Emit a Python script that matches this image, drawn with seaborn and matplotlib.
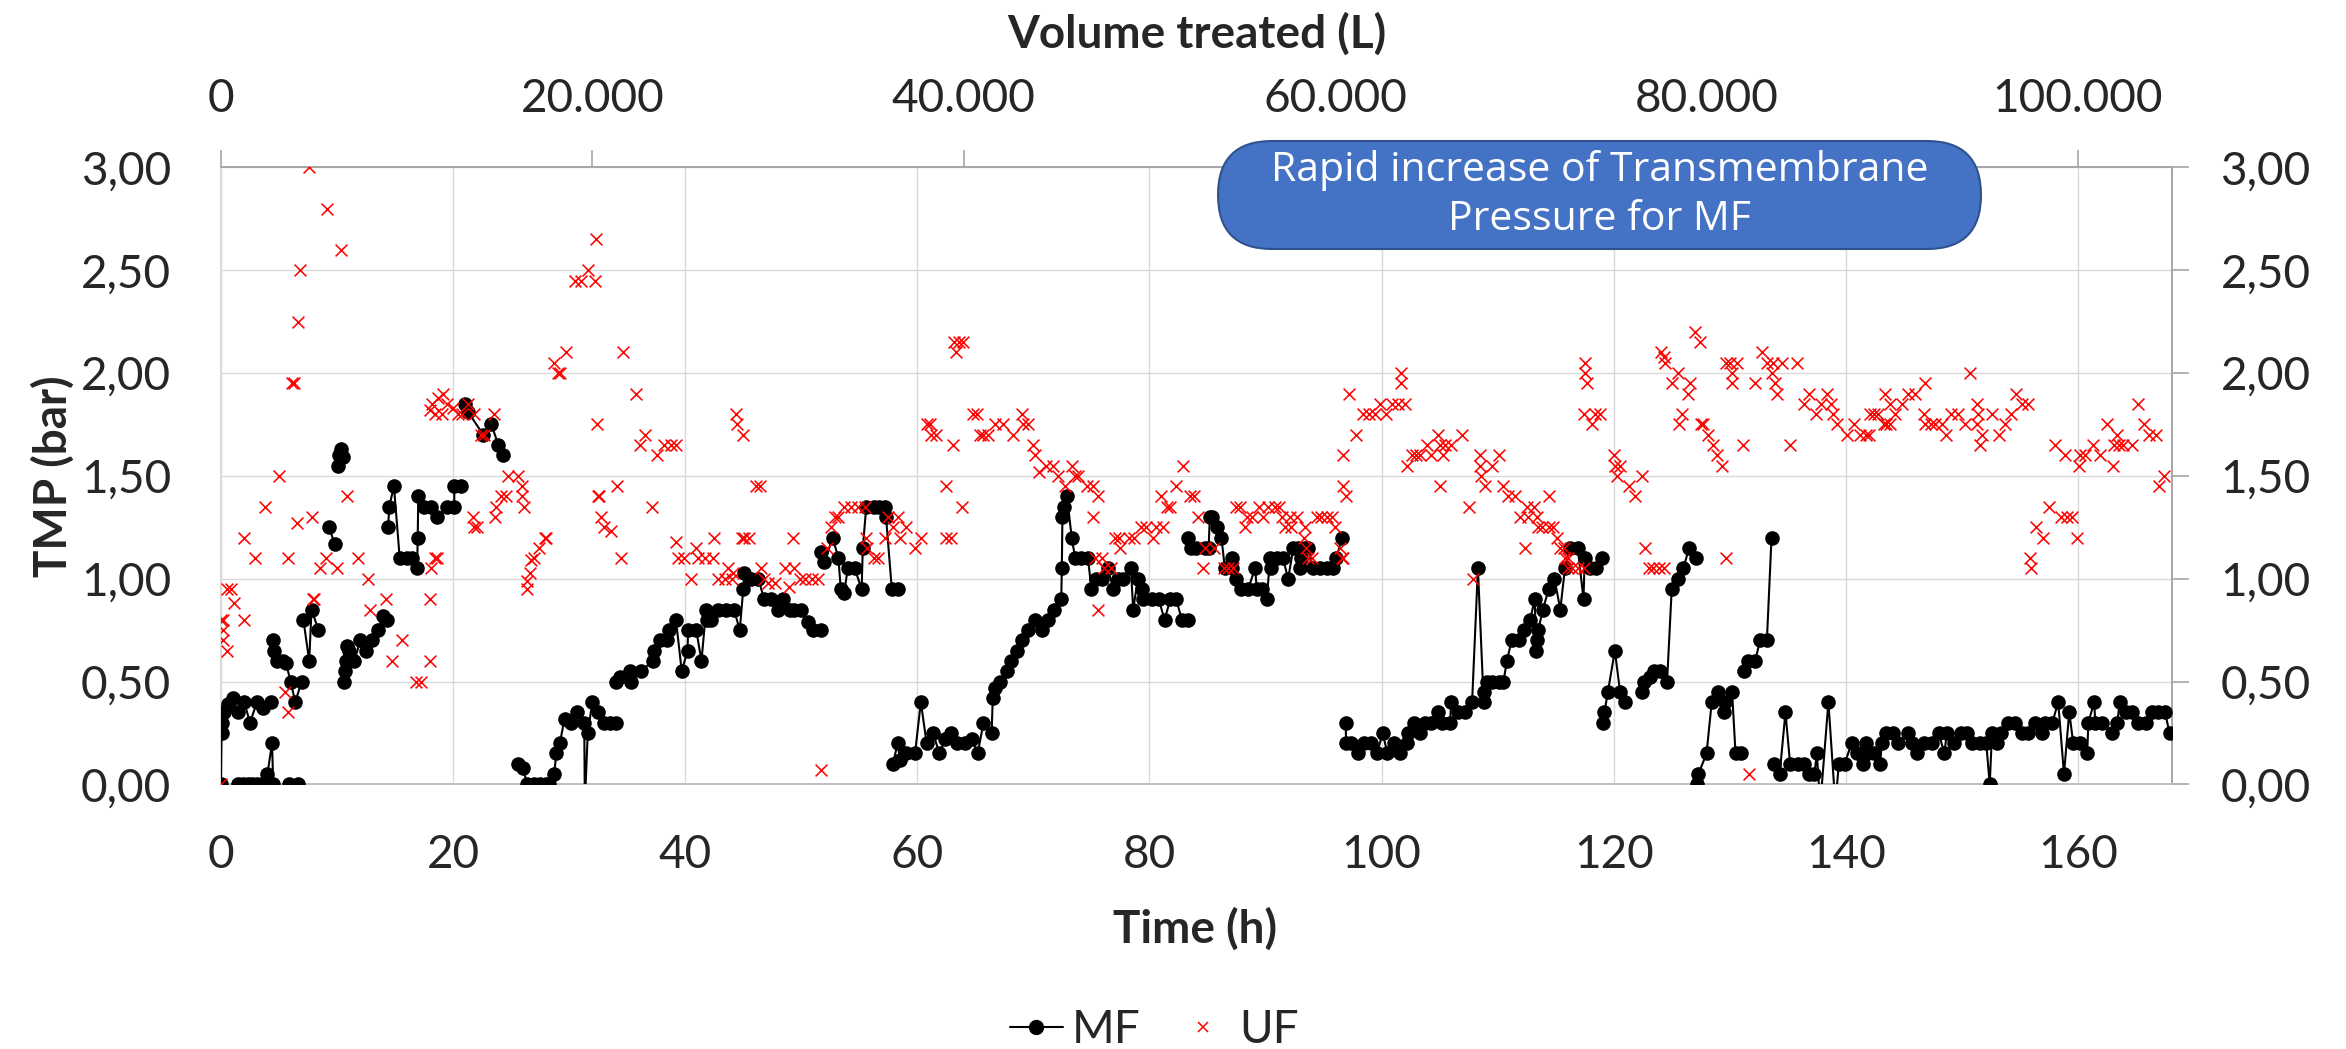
import numpy as np
import pandas as pd
import matplotlib
matplotlib.use("Agg")
import matplotlib.pyplot as plt
import seaborn as sns
from matplotlib.lines import Line2D
from matplotlib.patches import FancyBboxPatch
from matplotlib.ticker import FuncFormatter

# MF: (time h, TMP bar) runs, each run is one connected line
mf_run_a = [(0, 0), (0.05, 0.25), (0.1, 0.30), (0.3, 0.35), (0.6, 0.39), (1.0, 0.42), (1.45, 0.35),
            (2.0, 0.40), (2.5, 0.30), (3.1, 0.40), (3.6, 0.37), (4.3, 0.40)]
mf_run_b = [(1.5, 0), (1.9, 0), (2.3, 0), (2.7, 0), (3.1, 0), (3.5, 0), (4.0, 0.05), (4.4, 0.20), (4.5, 0)]
mf_run_c = [(5.9, 0), (6.6, 0)]
mf_run_d = [(4.5, 0.70), (4.6, 0.65), (4.8, 0.60), (5.3, 0.60), (5.6, 0.59), (6.0, 0.50), (6.4, 0.40), (6.95, 0.50)]
mf_run_e = [(7.1, 0.80), (7.6, 0.60), (7.8, 0.85), (8.4, 0.75)]
mf_run_f = [(9.3, 1.25), (9.8, 1.17)]
mf_run_g = [(10.1, 1.55), (10.2, 1.60), (10.3, 1.63), (10.5, 1.59)]
mf_run_h = [(10.6, 0.50), (10.7, 0.55), (10.8, 0.60), (10.9, 0.675), (11.0, 0.65), (11.5, 0.60), (12.0, 0.70),
            (12.5, 0.65), (13.0, 0.70), (13.5, 0.75), (14.0, 0.82), (14.3, 0.80)]
mf_run_i = [(14.4, 1.25), (14.5, 1.35), (14.9, 1.45), (15.4, 1.10), (16.0, 1.10), (16.5, 1.10), (16.9, 1.05),
            (16.95, 1.20), (17.0, 1.40), (17.5, 1.35), (18.1, 1.35), (18.6, 1.30), (19.5, 1.35), (20.1, 1.35),
            (20.1, 1.45), (20.7, 1.45)]
mf_run_j = [(21.0, 1.85), (21.3, 1.81), (22.6, 1.70), (23.3, 1.75), (23.9, 1.65), (24.3, 1.60)]
mf_run_k = [(25.6, 0.10), (26.0, 0.08), (26.4, 0), (27.0, 0), (27.5, 0), (28.0, 0), (28.3, 0), (28.7, 0.05),
            (28.9, 0.15), (29.2, 0.20), (29.6, 0.32), (30.2, 0.30), (30.7, 0.35), (31.3, 0.30), (31.35, -0.1),
            (31.6, 0.25), (32.0, 0.40), (32.5, 0.35), (33.0, 0.30), (33.5, 0.30), (34.0, 0.30)]
mf_run_l = [(34.0, 0.50), (34.4, 0.52), (35.2, 0.55), (35.35, 0.50), (36.2, 0.55), (37.2, 0.60), (37.35, 0.65),
            (37.8, 0.70), (38.4, 0.70), (38.6, 0.75), (39.2, 0.80), (39.7, 0.55), (40.2, 0.65), (40.25, 0.75),
            (40.95, 0.75), (41.4, 0.60), (41.8, 0.85), (41.85, 0.80), (42.2, 0.80), (42.8, 0.85), (43.5, 0.85),
            (44.2, 0.85), (44.7, 0.75), (45.0, 0.95), (45.1, 1.03), (45.7, 1.00), (46.3, 1.00), (46.8, 0.90),
            (47.4, 0.90), (48.0, 0.85), (48.4, 0.90), (49.0, 0.85), (49.4, 0.85), (50.0, 0.85), (50.6, 0.79),
            (51.0, 0.75), (51.7, 0.75)]
mf_run_m = [(51.7, 1.13), (52.0, 1.08), (52.7, 1.20), (53.2, 1.10), (53.4, 0.95), (53.7, 0.93), (54.0, 1.05),
            (54.6, 1.05), (55.2, 0.95), (55.3, 1.15), (55.6, 1.35), (56.3, 1.35), (56.7, 1.35), (57.2, 1.35),
            (57.3, 1.30), (57.8, 0.95), (58.3, 0.95)]
mf_run_n = [(57.9, 0.10), (58.3, 0.20), (58.5, 0.12), (59.05, 0.15), (59.8, 0.15), (60.3, 0.40), (60.8, 0.20),
            (61.35, 0.25), (61.9, 0.15), (62.4, 0.22), (62.9, 0.25), (63.4, 0.20), (64.1, 0.20), (64.7, 0.22),
            (65.2, 0.15), (65.7, 0.30), (66.4, 0.25), (66.5, 0.42), (66.7, 0.47), (67.1, 0.50), (67.7, 0.55),
            (68.1, 0.60), (68.6, 0.65), (69.0, 0.70), (69.5, 0.75), (70.1, 0.80), (70.7, 0.75), (71.3, 0.80),
            (71.8, 0.85), (72.4, 0.90), (72.45, 1.05), (72.5, 1.30), (72.65, 1.35), (72.9, 1.40), (73.3, 1.20),
            (73.6, 1.10), (74.1, 1.10), (74.7, 1.10), (75.0, 0.95), (75.4, 1.00), (75.9, 1.00), (76.4, 1.05),
            (76.9, 0.95), (77.3, 1.00), (77.7, 1.00), (78.4, 1.05), (78.6, 0.85), (79.0, 1.00), (79.4, 0.95),
            (79.45, 0.90), (80.2, 0.90), (80.8, 0.90), (81.3, 0.80), (81.8, 0.90), (82.3, 0.90), (82.8, 0.80),
            (83.3, 0.80)]
mf_run_o = [(83.3, 1.20), (83.6, 1.15), (84.05, 1.15), (84.8, 1.15), (85.1, 1.15), (85.2, 1.30), (85.4, 1.30),
            (85.8, 1.25), (86.2, 1.20), (86.5, 1.05), (87.1, 1.10), (87.15, 1.05), (87.5, 1.00), (87.9, 0.95),
            (88.5, 0.95), (89.1, 1.05), (89.25, 0.95), (89.7, 0.95), (90.1, 0.90), (90.4, 1.10), (90.5, 1.05),
            (91.0, 1.10), (91.5, 1.10), (91.95, 1.00), (92.4, 1.15), (92.8, 1.15), (92.95, 1.05), (93.1, 1.10),
            (93.4, 1.15), (93.7, 1.15), (94.1, 1.05), (94.7, 1.05), (95.3, 1.05), (95.8, 1.05), (96.1, 1.10),
            (96.6, 1.20)]
mf_run_p = [(96.9, 0.30), (96.95, 0.20), (97.4, 0.20), (98.0, 0.15), (98.5, 0.20), (99.1, 0.20), (99.6, 0.15),
            (100.1, 0.25), (100.5, 0.15), (101.1, 0.20), (101.6, 0.15), (102.2, 0.20), (102.3, 0.25), (102.8, 0.30),
            (103.3, 0.25), (103.7, 0.30), (104.3, 0.30), (104.9, 0.35), (105.2, 0.30), (105.9, 0.30), (106.0, 0.40),
            (106.6, 0.35), (107.2, 0.35), (107.8, 0.40), (108.3, 1.05), (108.8, 0.40), (108.85, 0.45),
            (109.05, 0.50), (109.5, 0.50), (110.1, 0.50), (110.5, 0.50), (110.8, 0.60), (111.2, 0.70),
            (111.8, 0.70), (112.3, 0.75), (112.8, 0.80), (113.2, 0.90), (113.3, 0.65), (113.4, 0.70),
            (113.5, 0.75), (113.9, 0.85), (114.4, 0.95), (114.9, 1.00), (115.4, 0.85), (115.8, 1.05),
            (116.2, 1.15), (116.9, 1.15), (117.4, 0.90), (117.5, 1.10), (117.96, 1.05), (118.5, 1.05),
            (119.0, 1.10)]
mf_run_q = [(119.1, 0.30), (119.2, 0.35), (119.5, 0.45), (120.1, 0.65), (120.55, 0.45), (121.0, 0.40)]
mf_run_r = [(122.4, 0.45), (122.6, 0.50), (123.1, 0.52), (123.5, 0.55), (124.0, 0.55), (124.6, 0.50),
            (125.0, 0.95), (125.5, 1.00), (126.0, 1.05), (126.5, 1.15), (127.1, 1.10)]
mf_run_s = [(127.2, 0.0), (127.3, 0.05), (128.0, 0.15), (128.45, 0.40), (129.0, 0.45), (129.5, 0.35),
            (129.6, 0.40), (130.2, 0.45), (130.5, 0.15), (131.0, 0.15)]
mf_run_t = [(131.2, 0.55), (131.6, 0.60), (132.2, 0.60), (132.6, 0.70), (133.2, 0.70), (133.6, 1.20)]
mf_run_u = [(133.8, 0.10), (134.3, 0.05), (134.8, 0.35), (135.2, 0.10), (135.9, 0.10), (136.4, 0.10),
            (136.8, 0.05), (137.3, 0.05), (137.5, 0.15), (137.8, -0.1), (138.5, 0.40), (139.1, -0.1),
            (139.4, 0.10), (139.9, 0.10), (140.5, 0.20), (140.95, 0.15), (141.5, 0.10), (141.7, 0.20),
            (141.95, 0.15), (142.4, 0.15), (142.95, 0.10), (143.1, 0.20), (143.5, 0.25), (144.1, 0.25),
            (144.5, 0.20), (145.4, 0.25), (145.7, 0.20), (146.1, 0.15), (146.7, 0.20), (147.4, 0.20),
            (148.0, 0.25), (148.5, 0.15), (148.7, 0.25), (149.3, 0.20), (149.9, 0.25), (150.4, 0.25),
            (150.9, 0.20), (151.6, 0.20), (152.1, 0.20), (152.4, 0.0), (152.6, 0.25), (153.0, 0.20),
            (153.4, 0.25), (154.0, 0.30), (154.6, 0.30), (155.2, 0.25), (155.7, 0.25), (156.3, 0.30),
            (156.9, 0.25), (157.2, 0.30), (157.8, 0.30), (158.3, 0.40), (158.8, 0.05), (159.25, 0.35),
            (159.6, 0.20), (160.2, 0.20), (160.8, 0.15), (160.9, 0.30), (161.4, 0.40), (161.5, 0.30),
            (162.1, 0.30), (162.9, 0.25), (163.4, 0.30), (163.6, 0.40), (164.1, 0.35), (164.65, 0.35),
            (165.2, 0.30), (165.9, 0.30), (166.4, 0.35), (166.9, 0.35), (167.5, 0.35), (167.9, 0.25)]

# UF: (time h, TMP bar) markers only
uf_0_28 = [(0, 0.0), (0, 0.80), (0.2, 0.80), (0.15, 0.75), (0.15, 0.70), (0.55, 0.65), (0.55, 0.95), (0.86, 0.95),
           (1.15, 0.88), (2.0, 0.80), (1.95, 1.20), (2.96, 1.10), (3.8, 1.35), (5.0, 1.50), (5.5, 0.45),
           (5.8, 0.35), (5.8, 1.10), (6.1, 1.95), (6.3, 1.95), (6.55, 1.27), (6.6, 2.25), (6.85, 2.50),
           (7.6, 3.00), (7.8, 1.30), (8.0, 0.90), (7.95, 0.90), (8.5, 1.05), (9.05, 1.10), (9.1, 2.80),
           (10.0, 1.05), (10.3, 2.60), (10.9, 1.40), (11.8, 1.10), (12.7, 1.00), (12.8, 0.85), (14.2, 0.90),
           (14.7, 0.60), (15.6, 0.70), (16.8, 0.50), (17.2, 0.50), (18.0, 0.60), (18.0, 0.90), (18.1, 1.05),
           (18.4, 1.10), (18.6, 1.10), (18.0, 1.82), (18.2, 1.85), (18.4, 1.80), (18.7, 1.88), (19.1, 1.90),
           (19.0, 1.80), (19.5, 1.85), (20.0, 1.83), (20.4, 1.80), (20.8, 1.80), (21.3, 1.85), (21.8, 1.80),
           (21.7, 1.30), (21.8, 1.25), (22.1, 1.25), (22.4, 1.70), (22.7, 1.70), (23.5, 1.80), (23.6, 1.30),
           (23.7, 1.35), (24.1, 1.40), (24.6, 1.40), (24.7, 1.50), (25.6, 1.50), (25.9, 1.45), (25.9, 1.40),
           (26.1, 1.35), (26.4, 0.95), (26.4, 0.99), (26.6, 1.03), (26.7, 1.09), (27.0, 1.10), (27.4, 1.15),
           (27.9, 1.20)]
uf_28_56 = [(28.0, 1.20), (28.7, 2.05), (29.0, 2.00), (29.2, 2.00), (29.7, 2.10), (30.5, 2.45), (31.0, 2.45),
            (31.6, 2.50), (32.2, 2.45), (32.3, 2.65), (32.4, 1.75), (32.5, 1.40), (32.6, 1.40), (32.7, 1.30),
            (33.0, 1.25), (33.6, 1.23), (34.1, 1.45), (34.5, 1.10), (34.6, 2.10), (35.8, 1.90), (36.1, 1.65),
            (36.5, 1.70), (37.1, 1.35), (37.6, 1.60), (38.2, 1.65), (38.8, 1.65), (39.2, 1.65), (39.2, 1.18),
            (39.4, 1.10), (39.9, 1.10), (40.5, 1.00), (40.95, 1.15), (41.1, 1.10), (41.7, 1.10), (42.4, 1.10),
            (42.5, 1.20), (42.8, 1.00), (43.4, 1.00), (43.7, 1.05), (44.0, 1.00), (44.1, 1.03), (44.4, 1.80),
            (44.5, 1.75), (45.0, 1.70), (44.85, 1.20), (45.1, 1.20), (45.5, 1.20), (46.1, 1.45), (46.4, 1.45),
            (46.5, 1.05), (46.8, 1.00), (47.1, 0.98), (47.7, 0.98), (48.6, 1.05), (48.9, 0.96), (49.3, 1.20),
            (49.4, 1.05), (49.9, 1.00), (50.3, 1.00), (50.9, 1.00), (51.4, 1.00), (51.7, 0.07), (52.2, 1.15),
            (52.6, 1.25), (52.9, 1.30), (53.2, 1.30), (53.7, 1.35), (54.3, 1.35), (54.9, 1.35), (55.5, 1.35),
            (55.6, 1.20), (55.7, 1.15), (56.3, 1.10)]
uf_56_85 = [(56.6, 1.10), (57.2, 1.20), (57.5, 1.30), (57.9, 1.25), (58.3, 1.30), (58.5, 1.20), (59.05, 1.25),
            (59.8, 1.15), (60.3, 1.20), (60.8, 1.75), (61.1, 1.75), (61.2, 1.70), (61.6, 1.70), (62.5, 1.45),
            (62.5, 1.20), (62.9, 1.20), (63.1, 1.65), (63.2, 2.15), (63.35, 2.10), (63.6, 2.15), (63.9, 2.15),
            (63.85, 1.35), (64.8, 1.80), (65.1, 1.80), (65.4, 1.70), (65.7, 1.70), (66.1, 1.70), (66.7, 1.75),
            (67.4, 1.75), (68.2, 1.70), (69.0, 1.80), (69.1, 1.75), (69.5, 1.75), (70.0, 1.65), (70.1, 1.60),
            (70.5, 1.52), (71.1, 1.55), (71.7, 1.55), (72.1, 1.50), (72.7, 1.45), (73.3, 1.55), (73.6, 1.50),
            (73.85, 1.50), (74.6, 1.45), (75.1, 1.45), (75.6, 1.40), (75.1, 1.30), (75.3, 1.10), (75.9, 1.10),
            (76.1, 1.05), (75.6, 0.85), (76.7, 1.05), (77.0, 1.20), (77.4, 1.20), (77.5, 1.15), (78.2, 1.20),
            (78.7, 1.20), (79.3, 1.25), (79.7, 1.25), (80.3, 1.20), (80.6, 1.25), (81.2, 1.25), (81.0, 1.40),
            (81.5, 1.35), (81.8, 1.35), (82.3, 1.45), (82.9, 1.55), (83.5, 1.40), (83.85, 1.40), (84.2, 1.30),
            (84.8, 1.15), (84.6, 1.05)]
uf_85_113 = [(85.6, 1.15), (86.4, 1.05), (86.8, 1.05), (87.2, 1.05), (87.5, 1.35), (87.8, 1.35), (88.2, 1.25),
             (88.4, 1.30), (88.8, 1.30), (89.4, 1.35), (89.8, 1.30), (90.2, 1.35), (90.8, 1.35), (91.2, 1.35),
             (91.4, 1.30), (91.7, 1.25), (92.1, 1.30), (92.2, 1.25), (92.7, 1.30), (93.3, 1.20), (93.4, 1.25),
             (93.5, 1.15), (93.7, 1.10), (94.0, 1.10), (94.4, 1.30), (94.8, 1.30), (95.3, 1.30), (95.7, 1.30),
             (96.0, 1.25), (96.4, 1.15), (96.55, 1.10), (96.7, 1.10), (96.7, 1.45), (96.95, 1.40), (96.7, 1.60),
             (97.2, 1.90), (97.8, 1.70), (98.4, 1.80), (98.9, 1.80), (99.4, 1.80), (99.9, 1.85), (100.4, 1.80),
             (100.9, 1.85), (101.4, 1.85), (101.7, 1.95), (101.7, 2.00), (102.0, 1.85), (102.2, 1.55),
             (102.6, 1.60), (103.0, 1.60), (103.3, 1.60), (103.9, 1.65), (104.3, 1.60), (104.9, 1.70),
             (105.0, 1.65), (105.0, 1.45), (105.3, 1.60), (105.5, 1.65), (106.0, 1.65), (106.9, 1.70),
             (107.5, 1.35), (107.9, 1.00), (108.5, 1.60), (108.5, 1.55), (108.6, 1.50), (108.9, 1.45),
             (109.5, 1.55), (110.1, 1.60), (110.5, 1.45), (110.9, 1.40), (111.5, 1.40), (111.9, 1.30),
             (112.4, 1.15), (112.5, 1.35), (113.1, 1.35), (112.65, 1.30), (113.5, 1.25)]
uf_113_142 = [(113.35, 1.30), (113.8, 1.25), (114.4, 1.40), (114.4, 1.25), (114.8, 1.25), (115.1, 1.20),
              (115.4, 1.15), (115.7, 1.15), (115.8, 1.10), (116.1, 1.10), (116.1, 1.05), (116.4, 1.05),
              (116.96, 1.05), (117.4, 1.05), (117.5, 2.05), (117.55, 2.00), (117.7, 1.95), (117.4, 1.80),
              (118.1, 1.75), (118.4, 1.80), (118.8, 1.80), (120.0, 1.60), (120.1, 1.55), (120.55, 1.55),
              (120.3, 1.50), (121.3, 1.45), (121.8, 1.40), (122.4, 1.50), (122.7, 1.15), (123.0, 1.05),
              (123.4, 1.05), (123.9, 1.05), (124.3, 1.05), (124.1, 2.10), (124.3, 2.08), (124.4, 2.05),
              (125.0, 1.95), (125.5, 2.00), (125.6, 1.75), (125.9, 1.80), (126.4, 1.90), (126.6, 1.95),
              (127.0, 2.20), (127.4, 2.15), (127.5, 1.75), (127.7, 1.75), (128.1, 1.70), (128.6, 1.65),
              (128.9, 1.60), (129.3, 1.55), (129.7, 1.10), (129.7, 2.05), (130.0, 2.05), (130.2, 2.00),
              (130.2, 1.95), (130.6, 2.05), (131.1, 1.65), (131.7, 0.05), (132.2, 1.95), (132.8, 2.10),
              (133.2, 2.05), (133.6, 2.00), (133.75, 2.05), (133.9, 1.95), (134.1, 1.90), (134.5, 2.05),
              (135.2, 1.65), (135.8, 2.05), (136.4, 1.85), (136.8, 1.90), (137.4, 1.80), (137.9, 1.85),
              (138.4, 1.90), (138.7, 1.85), (138.9, 1.80), (139.2, 1.75), (140.1, 1.70), (140.7, 1.75),
              (141.2, 1.70), (141.7, 1.70), (142.1, 1.80)]
uf_142_168 = [(142.0, 1.70), (142.4, 1.80), (142.8, 1.80), (143.4, 1.90), (143.3, 1.75), (143.5, 1.75),
              (143.8, 1.75), (143.8, 1.85), (144.2, 1.80), (144.8, 1.85), (145.4, 1.90), (146.0, 1.90),
              (146.8, 1.95), (146.7, 1.80), (146.85, 1.75), (147.3, 1.75), (147.7, 1.75), (148.3, 1.75),
              (148.6, 1.70), (149.1, 1.80), (149.7, 1.80), (150.3, 1.75), (150.7, 2.00), (151.3, 1.85),
              (151.4, 1.80), (151.3, 1.75), (151.7, 1.70), (151.6, 1.65), (152.6, 1.80), (153.2, 1.70),
              (153.7, 1.75), (154.2, 1.80), (154.7, 1.90), (155.2, 1.85), (155.7, 1.85), (155.9, 1.10),
              (156.0, 1.05), (156.4, 1.25), (157.0, 1.20), (157.5, 1.35), (158.0, 1.65), (158.5, 1.30),
              (158.9, 1.60), (159.05, 1.30), (159.5, 1.30), (159.9, 1.20), (160.05, 1.55), (160.2, 1.60),
              (160.6, 1.60), (161.3, 1.65), (161.9, 1.60), (162.5, 1.75), (163.0, 1.55), (163.1, 1.65),
              (163.4, 1.70), (163.5, 1.65), (163.9, 1.65), (164.65, 1.65), (165.2, 1.85), (165.7, 1.75),
              (166.1, 1.70), (166.7, 1.70), (167.0, 1.45), (167.4, 1.50)]

time_ticks = list(range(0, 161, 20))
volume_ticks = list(range(0, 100001, 20000))
tmp_ticks = [0, 0.5, 1.0, 1.5, 2.0, 2.5, 3.0]
litres_per_hour = 625  # 100.000 L at 160 h

mf_runs = [mf_run_a, mf_run_b, mf_run_c, mf_run_d, mf_run_e, mf_run_f, mf_run_g, mf_run_h, mf_run_i,
           mf_run_j, mf_run_k, mf_run_l, mf_run_m, mf_run_n, mf_run_o, mf_run_p, mf_run_q, mf_run_r,
           mf_run_s, mf_run_t, mf_run_u]
mf_df = pd.DataFrame([(t, v, i) for i, run in enumerate(mf_runs) for t, v in run],
                     columns=["time", "tmp", "run"])
uf_df = pd.DataFrame(uf_0_28 + uf_28_56 + uf_56_85 + uf_85_113 + uf_113_142 + uf_142_168,
                     columns=["time", "tmp"])

sns.set_style("white")
plt.rcParams["font.family"] = ["Lato", "DejaVu Sans"]

fig = plt.figure(figsize=(23.46, 10.49), dpi=100)
ax = fig.add_axes([0.0942, 0.2523, 0.8316, 0.5881])

sns.lineplot(data=mf_df, x="time", y="tmp", units="run", estimator=None, sort=False, ax=ax,
             color="black", linewidth=1.5, marker="o", markersize=10.5, markeredgewidth=0,
             legend=False, zorder=3)
sns.scatterplot(data=uf_df, x="time", y="tmp", ax=ax, color="red", marker="x", s=72,
                linewidth=1.15, legend=False, zorder=4)

ax.set_xlim(0, 168.1)
ax.set_ylim(0, 3)
ax.set_xticks(time_ticks)
ax.set_yticks(tmp_ticks)
comma = FuncFormatter(lambda v, p: f"{v:.2f}".replace(".", ","))
ax.yaxis.set_major_formatter(comma)
ax.grid(True, color="#d9d9d9", linewidth=1.0)
ax.tick_params(length=0, labelsize=33)
ax.tick_params(axis="y", pad=36)
ax.tick_params(axis="x", pad=36)
ax.spines["left"].set_color("#d9d9d9")
ax.spines["bottom"].set_color("#bfbfbf")
ax.spines["top"].set_color("#a6a6a6")
ax.spines["right"].set_color("#a6a6a6")
for s in ax.spines.values():
    s.set_linewidth(1.4)

ax.set_xlabel("Time (h)", fontsize=33, fontweight="bold")
ax.xaxis.set_label_coords(0.4995, -0.2)
ax.set_ylabel("TMP (bar)", fontsize=33, fontweight="bold")
ax.yaxis.set_label_coords(-0.075, 0.5)

# top axis: volume treated
top = ax.secondary_xaxis("top", functions=(lambda t: t * litres_per_hour, lambda v: v / litres_per_hour))
top.set_xticks(volume_ticks)
top.xaxis.set_major_formatter(FuncFormatter(lambda v, p: f"{int(round(v)):,}".replace(",", ".")))
top.tick_params(direction="out", length=12, width=1.2, color="#a6a6a6", pad=22, labelsize=33)
top.set_xlabel("Volume treated (L)", fontsize=33, fontweight="bold", labelpad=22)

right = ax.secondary_yaxis("right")
right.set_yticks(tmp_ticks)
right.yaxis.set_major_formatter(comma)
right.tick_params(direction="out", length=12, width=1.2, color="#a6a6a6", pad=23, labelsize=33)
for sec in (top, right):
    for s in sec.spines.values():
        s.set_visible(False)

# annotation pill
box = FancyBboxPatch((12.18, 8.0), 7.63, 1.08, boxstyle="round,pad=0,rounding_size=0.54",
                     transform=fig.dpi_scale_trans, facecolor="#4472C4", edgecolor="#2F528F",
                     linewidth=1.5, zorder=10)
fig.add_artist(box)
fig.text(15.995, 8.54, "Rapid increase of Transmembrane\nPressure for MF", transform=fig.dpi_scale_trans,
         ha="center", va="center", color="white", fontsize=29.5, family=["Open Sans", "DejaVu Sans"],
         linespacing=1.3, zorder=11)

handles = [Line2D([], [], color="black", marker="o", markersize=10, linewidth=1.5, label="MF"),
           Line2D([], [], color="red", marker="x", markersize=7.5, markeredgewidth=1.1, linestyle="none",
                  label="UF")]
fig.legend(handles=handles, loc="center", bbox_to_anchor=(0.492, 0.018), ncol=2, frameon=False,
           fontsize=33, handlelength=1.15, handletextpad=0.2, columnspacing=0.8)

fig.savefig("out.png", dpi=100)
